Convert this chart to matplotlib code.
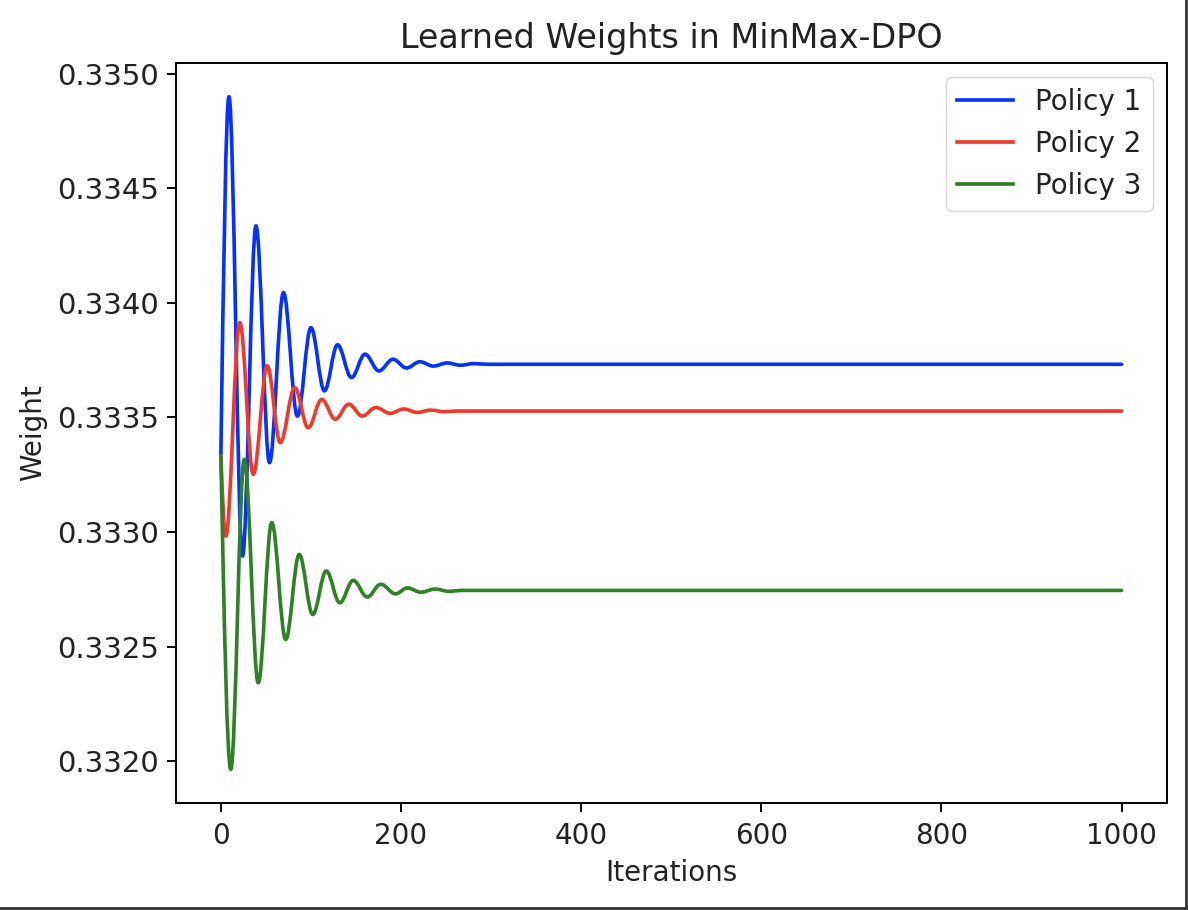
#!/usr/bin/env python3
"""Learned weights of the three policies during MinMax-DPO training."""

import matplotlib

matplotlib.use("Agg")
import matplotlib.pyplot as plt
from matplotlib.lines import Line2D
from matplotlib.path import Path
from matplotlib.patches import PathPatch
from matplotlib.ticker import FormatStrFormatter

# key points: start, each peak / trough, settle point, end
p1_iters = [0, 9, 24, 39, 54, 69.5, 85, 100, 115, 129.5, 145, 160, 175.5, 191,
            206, 221, 236, 251, 266, 281, 296, 1000]
p1_vals = [0.333333, 0.334900, 0.332895, 0.334336, 0.333303, 0.334045, 0.333506,
           0.333892, 0.333616, 0.333817, 0.333674, 0.333776, 0.333703, 0.333754,
           0.333716, 0.333743, 0.333724, 0.333738, 0.333728, 0.333735, 0.333732,
           0.333732]

p2_iters = [0, 5.5, 21, 36, 51.5, 66, 82, 97, 112, 127, 142, 157, 172, 188,
            203, 218, 233, 248, 263, 1000]
p2_vals = [0.333333, 0.332982, 0.333914, 0.333252, 0.333725, 0.333390, 0.333630,
           0.333455, 0.333579, 0.333492, 0.333558, 0.333506, 0.333543, 0.333518,
           0.333537, 0.333522, 0.333532, 0.333525, 0.333528, 0.333528]

p3_iters = [0, 11, 26, 41.5, 56.5, 72, 87, 102, 117, 132, 147, 162.5, 177.5, 194,
            207, 222, 238, 253, 268, 1000]
p3_vals = [0.333333, 0.331964, 0.333317, 0.332342, 0.333041, 0.332531, 0.332902,
           0.332640, 0.332830, 0.332691, 0.332789, 0.332716, 0.332772, 0.332730,
           0.332756, 0.332737, 0.332751, 0.332741, 0.332745, 0.332745]

labels = ["Policy 1", "Policy 2", "Policy 3"]
colors = ["#0433ff", "#ee3a2c", "#2e8225"]

S = 1.75  # screenshot scale vs. default 6.4x4.8 figure
FS = 20   # text in the screenshot renders a bit larger than the scale alone
plt.rcParams.update({
    "font.size": FS,
    "text.color": "#222222",
    "axes.labelcolor": "#222222",
    "xtick.labelcolor": "#222222",
    "ytick.labelcolor": "#222222",
    "axes.linewidth": 0.8 * S,
    "xtick.major.width": 0.8 * S,
    "ytick.major.width": 0.8 * S,
    "xtick.major.size": 3.5 * S,
    "ytick.major.size": 3.5 * S,
    "xtick.major.pad": 4.5 * S,
    "ytick.major.pad": 3.5 * S,
    "xtick.labelsize": FS,
    "ytick.labelsize": FS + 1,
    "legend.fontsize": FS,
})


def wave_path(xs, ys):
    """Smooth path through the extrema: horizontal tangent at every peak/trough."""
    verts = [(xs[0], ys[0])]
    codes = [Path.MOVETO]
    n = len(xs)
    for i in range(n - 1):
        x0, y0, x1, y1 = xs[i], ys[i], xs[i + 1], ys[i + 1]
        dx, dy = x1 - x0, y1 - y0
        if i == n - 2:
            verts.append((x1, y1))
            codes.append(Path.LINETO)
            continue
        if i == 0:
            c1 = (x0 + 0.33 * dx, y0 + 0.52 * dy)
        else:
            c1 = (x0 + 0.3634 * dx, y0)
        c2 = (x1 - 0.3634 * dx, y1)
        verts += [c1, c2, (x1, y1)]
        codes += [Path.CURVE4] * 3
    return Path(verts, codes)


fig = plt.figure(figsize=(11.88, 9.10), dpi=100)
ax = fig.add_axes([0.148, 0.1176, 0.834, 0.8131])

series = [(p1_iters, p1_vals), (p2_iters, p2_vals), (p3_iters, p3_vals)]
handles = []
for (xs, ys), lab, col in zip(series, labels, colors):
    patch = PathPatch(wave_path(xs, ys), facecolor="none", edgecolor=col,
                      lw=1.5 * S, joinstyle="round", capstyle="round")
    ax.add_patch(patch)
    handles.append(Line2D([], [], color=col, lw=1.5 * S, label=lab))

all_vals = p1_vals + p2_vals + p3_vals
lo, hi = min(all_vals), max(all_vals)
pad = 0.05 * (hi - lo)
ax.set_ylim(lo - pad, hi + pad)
ax.set_xlim(-50, 1050)
ax.yaxis.set_major_formatter(FormatStrFormatter("%.4f"))

ax.set_title("Learned Weights in MinMax-DPO", fontsize=24, pad=6 * S)
ax.set_xlabel("Iterations", labelpad=3.5 * S)
ax.set_ylabel("Weight", labelpad=4 * S)
ax.legend(handles=handles, loc="upper right", borderaxespad=0.5)

# screenshot frame on the right and bottom edges
fig.add_artist(Line2D([0.9985, 0.9985], [0, 1], transform=fig.transFigure,
                      color="#333333", lw=2))
fig.add_artist(Line2D([0, 1], [0.0025, 0.0025], transform=fig.transFigure,
                      color="#333333", lw=2))

fig.savefig("out.png", dpi=100)
